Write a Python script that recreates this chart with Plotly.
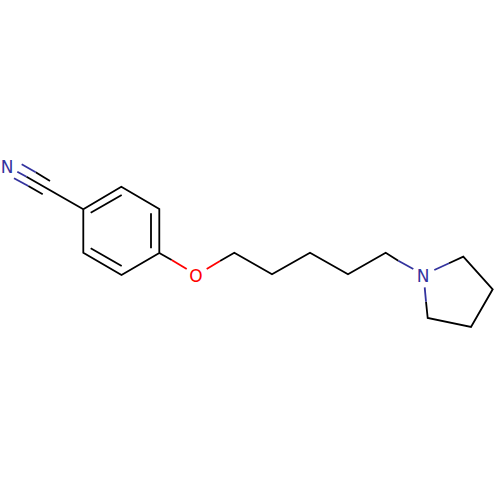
import plotly.graph_objects as go

# bond segments, None breaks the line between bonds
black_x = [83.3, 121.3, 159.3, 159.3, 121.5, 83.3, 83.3, None,
           90.7, 121.7, None,
           151, 151, None,
           90.7, 121.7, None,
           26.5, 44.5, 83.3, None,
           35.7, 50, None,
           28.3, 42.7, None,
           159.3, 171.7, None,
           220, 234.3, 272, 310, 348, 385.7, 398.3, None,
           449, 463.3, 492.7, 471, 427.7, 426]
black_y = [209.3, 186.7, 209, 253, 275, 252.7, 209.3, None,
           212.7, 195, None,
           213.3, 248.3, None,
           248.3, 266, None,
           176.7, 187, 209.3, None,
           172.3, 181, None,
           186, 194.3, None,
           253, 260, None,
           261, 252.7, 274.3, 252.7, 274.3, 252.7, 260.7, None,
           263.3, 256.7, 289.3, 327, 318, 301.7]

blue_x = [21.7, 35.7, None,
          17.3, 26.5, None,
          14, 28.3, None,
          398.3, 413.3, None,
          434.3, 449, None,
          426, 424.7]
blue_y = [164.3, 172.3, None,
          171.7, 176.7, None,
          178.3, 186, None,
          260.7, 269, None,
          270, 263.3, None,
          301.7, 287.3]

red_x = [171.7, 186.7, None, 206.7, 220]
red_y = [260, 269, None, 269, 261]

atom_labels = ["N", "O", "N"]
atom_x = [7, 196, 423]
atom_y = [169, 278, 278]
atom_colors = ["#33339e", "#ff0000", "#33339e"]

fig = go.Figure()
fig.add_trace(go.Scatter(x=black_x, y=black_y, mode="lines", line=dict(color="#000000", width=1.8)))
fig.add_trace(go.Scatter(x=blue_x, y=blue_y, mode="lines", line=dict(color="#33339e", width=1.8)))
fig.add_trace(go.Scatter(x=red_x, y=red_y, mode="lines", line=dict(color="#ff0000", width=1.8)))
fig.add_trace(go.Scatter(x=atom_x, y=atom_y, mode="text", text=atom_labels,
                         textposition="middle center", cliponaxis=False,
                         textfont=dict(family="DejaVu Sans", size=17, color=atom_colors)))

fig.update_layout(width=500, height=500, margin=dict(l=0, r=0, t=0, b=0),
                  paper_bgcolor="white", plot_bgcolor="white", showlegend=False,
                  hovermode=False)
fig.update_xaxes(range=[0, 500], visible=False)
fig.update_yaxes(range=[500, 0], visible=False)

# page has a default body margin that pushes the plot off by 8px
fig.write_html("out.html", config=dict(displayModeBar=False),
               post_script="document.body.style.margin='0';")
